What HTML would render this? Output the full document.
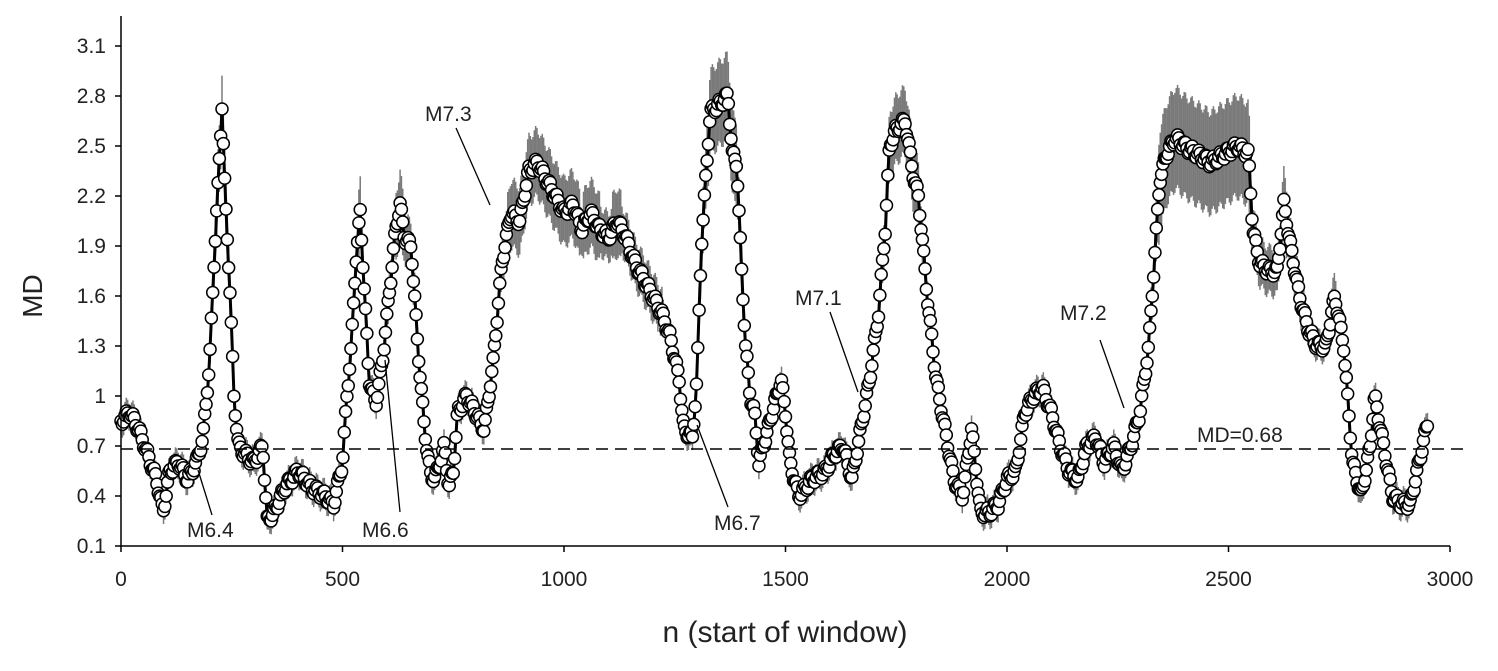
<!DOCTYPE html>
<html><head><meta charset="utf-8"><style>
html,body{margin:0;padding:0;background:#fff;}
svg text{font-family:"Liberation Sans",Arial,sans-serif;fill:#222;}
</style></head><body>
<svg id="c" width="1498" height="666" xmlns="http://www.w3.org/2000/svg">
<g id="eb" stroke="#7a7a7a" stroke-width="1.5"></g>
<polyline id="ln" fill="none" stroke="#000" stroke-width="3"/>
<g id="pts" fill="#fff" stroke="#000" stroke-width="1.5"></g>
<line x1="121" y1="449" x2="1470" y2="449" stroke="#000" stroke-width="1.5" stroke-dasharray="12,7"/>
<line x1="121" y1="16" x2="121" y2="546" stroke="#000" stroke-width="1.5"/>
<line x1="121" y1="546" x2="1450" y2="546" stroke="#000" stroke-width="1.5"/>
<g id="ax" font-size="21"></g>
<text x="42" y="296" font-size="28" text-anchor="middle" transform="rotate(-90 42 296)">MD</text>
<text x="785" y="642" font-size="30" text-anchor="middle">n (start of window)</text>
<g font-size="21" stroke="none">
<text x="187" y="537">M6.4</text>
<text x="362" y="537">M6.6</text>
<text x="425" y="121">M7.3</text>
<text x="714" y="530">M6.7</text>
<text x="795" y="305">M7.1</text>
<text x="1060" y="320">M7.2</text>
<text x="1197" y="442">MD=0.68</text>
</g>
<g stroke="#000" stroke-width="1.3">
<line x1="212" y1="515" x2="198" y2="470"/>
<line x1="400" y1="512" x2="385" y2="360"/>
<line x1="456" y1="128" x2="490" y2="205"/>
<line x1="728" y1="507" x2="697" y2="425"/>
<line x1="830" y1="312" x2="858" y2="392"/>
<line x1="1100" y1="340" x2="1124" y2="408"/>
</g>
</svg>
<script>
var K=[[0,0.85],[20,0.9],[40,0.8],[60,0.65],[80,0.5],[95,0.3],[110,0.55],[130,0.6],[150,0.5],[170,0.6],[185,0.75],[200,1.2],[210,1.8],[220,2.3],[228,2.75],[235,2.2],[245,1.7],[255,1.0],[265,0.7],[280,0.65],[300,0.6],[320,0.7],[330,0.25],[345,0.3],[370,0.45],[400,0.55],[430,0.45],[460,0.4],[480,0.35],[500,0.6],[510,1.0],[520,1.3],[530,1.8],[540,2.1],[548,1.7],[560,1.1],[575,0.95],[590,1.2],[605,1.6],[620,2.0],[630,2.15],[640,1.95],[655,1.9],[670,1.3],[685,0.8],[700,0.5],[715,0.55],[730,0.7],[740,0.45],[750,0.55],[760,0.9],[780,1.0],[800,0.9],[820,0.8],[840,1.2],[860,1.8],[880,2.1],[900,2.05],[920,2.35],[940,2.4],[960,2.3],[980,2.2],[1000,2.1],[1020,2.15],[1040,2.0],[1060,2.1],[1080,2.0],[1100,1.95],[1120,2.05],[1140,1.95],[1160,1.8],[1180,1.7],[1200,1.6],[1220,1.5],[1240,1.35],[1260,1.1],[1270,0.8],[1290,0.75],[1300,1.1],[1310,1.9],[1320,2.3],[1330,2.7],[1350,2.75],[1370,2.8],[1380,2.45],[1390,2.4],[1400,1.8],[1410,1.3],[1420,1.0],[1430,0.9],[1440,0.6],[1460,0.8],[1480,1.0],[1490,1.1],[1500,0.9],[1510,0.6],[1530,0.4],[1560,0.5],[1590,0.55],[1610,0.65],[1630,0.7],[1650,0.5],[1670,0.8],[1690,1.1],[1710,1.5],[1725,2.0],[1735,2.5],[1750,2.6],[1770,2.65],[1790,2.3],[1800,2.2],[1820,1.6],[1840,1.1],[1860,0.8],[1880,0.5],[1900,0.4],[1920,0.8],[1940,0.3],[1960,0.3],[1980,0.35],[2000,0.5],[2020,0.55],[2040,0.9],[2060,1.0],[2080,1.05],[2100,0.9],[2120,0.7],[2140,0.55],[2160,0.5],[2180,0.7],[2200,0.75],[2220,0.6],[2240,0.7],[2260,0.55],[2280,0.7],[2300,0.9],[2320,1.3],[2335,1.9],[2345,2.3],[2360,2.45],[2380,2.55],[2400,2.5],[2430,2.45],[2460,2.4],[2490,2.45],[2520,2.5],[2545,2.45],[2555,2.0],[2570,1.8],[2590,1.75],[2610,1.75],[2625,2.15],[2640,1.9],[2660,1.6],[2680,1.4],[2700,1.3],[2720,1.3],[2740,1.6],[2760,1.3],[2780,0.6],[2800,0.4],[2820,0.7],[2830,1.0],[2850,0.7],[2870,0.4],[2890,0.35],[2910,0.35],[2930,0.6],[2950,0.85]];
function X(n){return 121+n*1329/3000;}function Y(v){return 546-(v-0.1)*500/3;}
function f(n){for(var i=0;i<K.length-1;i++){if(n>=K[i][0]&&n<=K[i+1][0]){var t=(n-K[i][0])/(K[i+1][0]-K[i][0]);return K[i][1]+t*(K[i+1][1]-K[i][1]);}}return K[K.length-1][1];}
var ns="http://www.w3.org/2000/svg",eb=document.getElementById('eb'),pts=document.getElementById('pts'),P=[];
for(var n=0;n<=2950;n+=3){var v=f(n)+0.03*Math.sin(n*1.7);var x=X(n),y=Y(v);P.push(x.toFixed(1)+','+y.toFixed(1));
var e=0.06+(v>2.0?0.14:v>1.5?0.08:0.02);if(n>2340&&n<2550)e=0.3;if(n>1325&&n<1390)e=0.25;
var l=document.createElementNS(ns,'line');l.setAttribute('x1',x);l.setAttribute('x2',x);l.setAttribute('y1',Y(v-e));l.setAttribute('y2',Y(v+e));eb.appendChild(l);
var c=document.createElementNS(ns,'circle');c.setAttribute('cx',x);c.setAttribute('cy',y);c.setAttribute('r',6);pts.appendChild(c);}
document.getElementById('ln').setAttribute('points',P.join(' '));
var ax=document.getElementById('ax'),h='';
var yl=['0.1','0.4','0.7','1','1.3','1.6','1.9','2.2','2.5','2.8','3.1'];
yl.forEach(function(s,i){var y=546-i*50;h+='<line x1="115" x2="121" y1="'+y+'" y2="'+y+'" stroke="#000" stroke-width="1.5"/><text x="106" y="'+(y+7)+'" text-anchor="end">'+s+'</text>';});
for(var k=0;k<=3000;k+=500){var x=X(k);h+='<line x1="'+x+'" x2="'+x+'" y1="546" y2="552" stroke="#000" stroke-width="1.5"/><text x="'+x+'" y="586" text-anchor="middle">'+k+'</text>';}
ax.innerHTML=h;
</script>
</body></html>
